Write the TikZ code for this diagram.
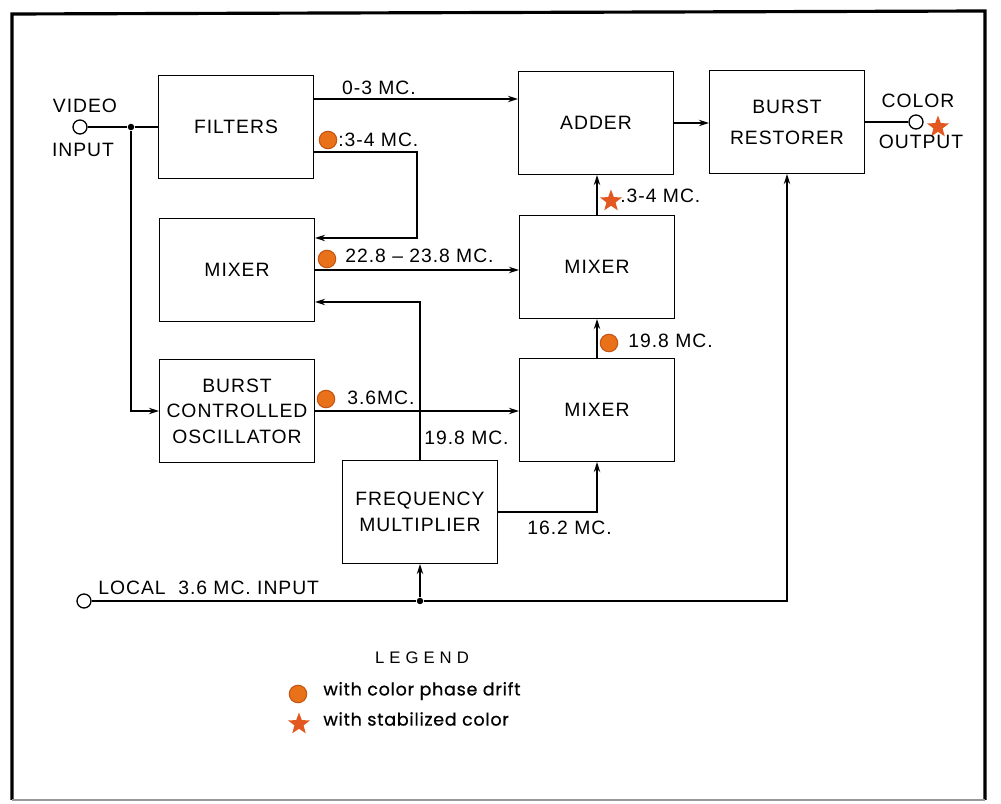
\documentclass[tikz,border=0pt]{standalone}
\usepackage{fontspec}
\setmainfont{Liberation Sans}
\newfontfamily\legendfont[FakeBold=0.6,LetterSpace=4]{Poppins}
\usetikzlibrary{arrows.meta,shapes.geometric}
\definecolor{drift}{RGB}{233,113,26}
\definecolor{driftedge}{RGB}{196,84,20}
\definecolor{stab}{RGB}{226,88,32}
\newcommand\boxfont{\fontsize{11}{14.5}\selectfont\addfontfeatures{LetterSpace=5}}

\begin{document}
\begin{tikzpicture}[x=0.2mm,y=-0.2mm,line width=0.75pt,
    >={Stealth[length=2mm,width=1.3mm]},
    blk/.style={draw, minimum width=31mm, minimum height=20.6mm, inner sep=0pt, align=center, font=\boxfont},
    tag/.style={inner sep=1pt, font=\boxfont},
    term/.style={circle, draw, fill=white, minimum size=2.8mm, inner sep=0pt},
    jdot/.style={circle, fill, minimum size=1.3mm, inner sep=0pt},
    driftmark/.style={circle, fill=drift, draw=driftedge, line width=0.6pt, minimum size=3.5mm, inner sep=0pt},
    stabmark/.style={star, star points=5, star point ratio=2.4, fill=stab, minimum size=4.6mm, inner sep=0pt},
    legtext/.style={inner sep=1pt, font=\legendfont\fontsize{10}{12}\selectfont}]
  \fill[white] (0,0) rectangle (1001,804);
  \draw[line width=1.8pt] (12,800) -- (12,14) -- (985,11) -- (985,800);
  \draw[line width=1.5pt, black!40] (12,800) -- (985,800);
  \node[blk] (filt) at (236,127) {FILTERS};
  \node[blk] (adder) at (596,123) {ADDER};
  \node[blk] (rest) at (787,122) {BURST\\[3pt]RESTORER};
  \node[blk] (mixa) at (237,270) {MIXER};
  \node[blk] (mixb) at (597,267) {MIXER};
  \node[blk] (bco) at (237,411) {BURST\\CONTROLLED\\OSCILLATOR};
  \node[blk] (mixc) at (597,410) {MIXER};
  \node[blk] (fmul) at (420,512) {FREQUENCY\\MULTIPLIER};
  \node[term] (vin) at (80,127) {};
  \node[term] (cout) at (916,122) {};
  \node[term] (lin) at (84,601) {};
  \node[jdot] (jv) at (131,127) {};
  \node[jdot] (jl) at (420,601) {};
  \draw (vin) -- (jv) -- (filt.west);
  \draw[->] (jv) |- (bco.west);
  \draw[->] (filt.east |- 0,99) -- (adder.west |- 0,99);
  \draw[->] (filt.east |- 0,152) -- (417,152) -- (417,238) -- (mixa.east |- 0,238);
  \draw[->] (mixa.east) -- (mixa.east -| mixb.west);
  \draw[->] (fmul.north) |- (mixa.east |- 0,302);
  \draw[->] (bco.east) -- (bco.east -| mixc.west);
  \draw[->] (fmul.east) -| (mixc.south);
  \draw[->] (mixc) -- (mixb);
  \draw[->] (mixb.north) -- (mixb.north |- adder.south);
  \draw[->] (adder.east) -- (adder.east -| rest.west);
  \draw (rest.east) -- (cout);
  \draw (lin) -- (jl);
  \draw[->] (jl) -- (fmul.south);
  \draw[->] (jl) -| (rest.south);
  \node[tag] (l03) at (379,88) {0-3 MC.};
  \node[driftmark] (d1) at (328,140) {};
  \node[tag, anchor=west] (l34a) at (336,140) {:3-4 MC.};
  \node[driftmark] (d2) at (327,259) {};
  \node[tag, anchor=west] (l228) at (343,256) {22.8 -- 23.8 MC.};
  \node[driftmark] (d3) at (326,399) {};
  \node[tag, anchor=west] (l36) at (345,398) {3.6MC.};
  \node[tag, anchor=west] (l198a) at (422,438) {19.8 MC.};
  \node[tag, anchor=west] (l162) at (525,528) {16.2 MC.};
  \node[stabmark] (s1) at (611,201) {};
  \node[tag, anchor=west] (l34b) at (618,196) {.3-4 MC.};
  \node[driftmark] (d4) at (609,343) {};
  \node[tag, anchor=west] (l198b) at (626,341) {19.8 MC.};
  \node[stabmark] (s2) at (938,127) {};
  \node[tag] (tcol) at (918,101) {COLOR};
  \node[tag] (tout) at (921,142) {OUTPUT};
  \node[tag] (tvid) at (85,106) {VIDEO};
  \node[tag] (tinp) at (83,150) {INPUT};
  \node[tag, anchor=west] (tloc) at (96,588) {LOCAL\ \ 3.6 MC.\ INPUT};
  \node[inner sep=1pt, font=\fontsize{9.5}{11}\selectfont\addfontfeatures{LetterSpace=30}] (leg) at (422,658) {LEGEND};
  \node[driftmark] (ld) at (298,694) {};
  \node[legtext, anchor=west] (ltd) at (321,691) {with color phase drift};
  \node[stabmark] (ls) at (299,724) {};
  \node[legtext, anchor=west] (lts) at (321,719) {with stabilized color};
\end{tikzpicture}
\end{document}
